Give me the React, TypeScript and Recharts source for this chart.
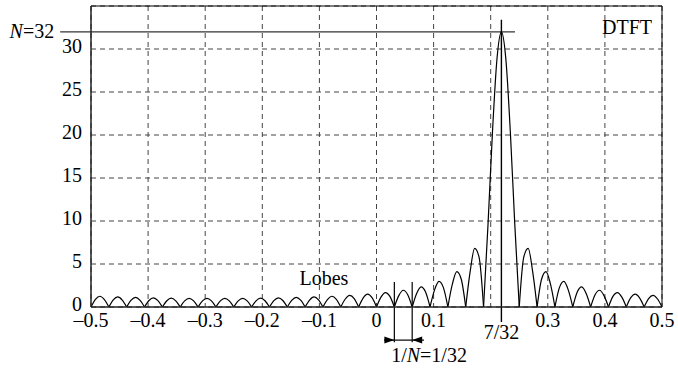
import { LineChart, Line, XAxis, YAxis, CartesianGrid, ReferenceLine, ReferenceDot } from "recharts";

const FREQ_START = -0.5;
const FREQ_STEP = 1 / 128;
const MAGNITUDE = [
  0,
  0.9, 1.25, 0.86, 0,
  0.84, 1.17, 0.81, 0,
  0.79, 1.11, 0.77, 0,
  0.76, 1.06, 0.74, 0,
  0.73, 1.03, 0.72, 0,
  0.72, 1.01, 0.71, 0,
  0.71, 1.0, 0.71, 0,
  0.71, 1.0, 0.71, 0,
  0.71, 1.01, 0.72, 0,
  0.72, 1.03, 0.73, 0,
  0.74, 1.06, 0.76, 0,
  0.77, 1.11, 0.79, 0,
  0.81, 1.17, 0.84, 0,
  0.86, 1.25, 0.9, 0,
  0.93, 1.35, 0.98, 0,
  1.03, 1.49, 1.08, 0,
  1.15, 1.68, 1.23, 0,
  1.32, 1.95, 1.43, 0,
  1.57, 2.34, 1.74, 0,
  1.96, 2.97, 2.25, 0,
  2.65, 4.12, 3.23, 0,
  4.14, 6.82, 5.78, 0,
  9.61, 20.38, 28.81, 32,
  28.81, 20.38, 9.61, 0,
  5.78, 6.82, 4.14, 0,
  3.23, 4.12, 2.65, 0,
  2.25, 2.97, 1.96, 0,
  1.74, 2.34, 1.57, 0,
  1.43, 1.95, 1.32, 0,
  1.23, 1.68, 1.15, 0,
  1.08, 1.49, 1.03, 0,
  0.98, 1.35, 0.93, 0,
];

const X_TICKS = [-0.5, -0.4, -0.3, -0.2, -0.1, 0, 0.1, 0.2, 0.3, 0.4, 0.5];
const X_UNLABELED = [0.2];
const Y_TICKS = [0, 5, 10, 15, 20, 25, 30];
const N = 32;
const PEAK_FREQ = 7 / 32;
const BIN = 1 / 32;

const FONT = "'Liberation Serif', 'Times New Roman', serif";
const FS = 20;

const points = MAGNITUDE.map((mag, i) => ({ f: FREQ_START + i * FREQ_STEP, mag }));

// split at the zeros so every lobe meets the next one in a cusp
const lobes: { f: number; mag: number }[][] = [];
let cur: { f: number; mag: number }[] = [];
points.forEach((p) => {
  cur.push(p);
  if (p.mag === 0 && cur.length > 1) {
    lobes.push(cur);
    cur = [p];
  }
});

const dash = (v: number) => (v < 0 ? "\u2013" + Math.abs(v) : String(v));

function XTick({ x, y, payload }: any) {
  if (X_UNLABELED.some((u) => Math.abs(u - payload.value) < 1e-9)) return <g />;
  return (
    <text x={x} y={y} dy="0.62em" textAnchor="middle" fontSize={FS} fontFamily={FONT} fill="#000">
      {dash(payload.value)}
    </text>
  );
}

function YTick({ x, y, payload }: any) {
  return (
    <text x={x - 1} y={y} dy="0.2em" textAnchor="end" fontSize={FS} fontFamily={FONT} fill="#000">
      {payload.value}
    </text>
  );
}

function ArrowShape(p: any) {
  const dir = p.x2 > p.x1 ? 1 : -1;
  const tip = p.x2;
  const y = p.y2;
  return (
    <g>
      <line x1={p.x1} y1={p.y1} x2={p.x2} y2={p.y2} stroke="#000" strokeWidth={1.2} />
      <polygon points={`${tip},${y} ${tip - dir * 10},${y - 3.5} ${tip - dir * 10},${y + 3.5}`} fill="#000" />
    </g>
  );
}

export default function App() {
  return (
    <div style={{ position: "absolute", left: 0, top: 0, background: "#fff" }}>
      <LineChart width={678} height={368} margin={{ top: 6, right: 16, bottom: 31, left: 0 }}>
        <CartesianGrid stroke="#444" strokeDasharray="5 4" strokeWidth={1} />
        <XAxis
          dataKey="f"
          type="number"
          domain={[-0.5, 0.5]}
          ticks={X_TICKS}
          interval={0}
          height={30}
          tickLine={false}
          axisLine={{ stroke: "#222", strokeWidth: 1.5 }}
          tick={<XTick />}
          allowDataOverflow
        />
        <YAxis
          type="number"
          domain={[0, 35]}
          ticks={Y_TICKS}
          interval={0}
          width={91}
          tickLine={false}
          axisLine={{ stroke: "#222", strokeWidth: 1.5 }}
          tick={<YTick />}
          allowDataOverflow
        />
        <ReferenceLine y={35} stroke="#000" strokeWidth={1} />
        <ReferenceLine x={0.5} stroke="#000" strokeWidth={1} />

        <ReferenceLine
          segment={[{ x: -0.554, y: N }, { x: 0.2425, y: N }]}
          ifOverflow="visible"
          shape={(p: any) => (
            <g>
              <line x1={p.x1} y1={p.y1} x2={p.x2} y2={p.y2} stroke="#333" strokeWidth={1.3} />
              <text x={p.x1 - 6} y={p.y1} dy="0.3em" textAnchor="end" fontSize={FS} fontFamily={FONT} fill="#000">
                <tspan fontStyle="italic">N</tspan>={N}
              </text>
            </g>
          )}
        />
        <ReferenceLine
          segment={[{ x: PEAK_FREQ, y: 33.4 }, { x: PEAK_FREQ, y: -1.75 }]}
          ifOverflow="visible"
          shape={(p: any) => (
            <g>
              <line x1={p.x1} y1={p.y1} x2={p.x2} y2={p.y2} stroke="#000" strokeWidth={1.4} />
              <text x={p.x2} y={p.y2 + 17} textAnchor="middle" fontSize={FS} fontFamily={FONT} fill="#000">
                7/32
              </text>
            </g>
          )}
        />
        <ReferenceLine segment={[{ x: BIN, y: 2.9 }, { x: BIN, y: -4.1 }]} ifOverflow="visible" stroke="#000" strokeWidth={1.2} />
        <ReferenceLine segment={[{ x: 2 * BIN, y: 2.9 }, { x: 2 * BIN, y: -4.1 }]} ifOverflow="visible" stroke="#000" strokeWidth={1.2} />
        <ReferenceLine segment={[{ x: BIN, y: -3.85 }, { x: 2 * BIN, y: -3.85 }]} ifOverflow="visible" stroke="#000" strokeWidth={1.2} />
        <ReferenceLine segment={[{ x: 0.0131, y: -3.85 }, { x: BIN, y: -3.85 }]} ifOverflow="visible" shape={<ArrowShape />} />
        <ReferenceLine segment={[{ x: 0.0832, y: -3.85 }, { x: 2 * BIN, y: -3.85 }]} ifOverflow="visible" shape={<ArrowShape />} />

        <ReferenceDot
          x={0.092}
          y={-6.45}
          r={0}
          ifOverflow="visible"
          shape={(p: any) => (
            <text x={p.cx} y={p.cy} textAnchor="middle" fontSize={FS} fontFamily={FONT} fill="#000">
              1/<tspan fontStyle="italic">N</tspan>=1/32
            </text>
          )}
        />
        <ReferenceDot
          x={-0.092}
          y={2.56}
          r={0}
          ifOverflow="visible"
          shape={(p: any) => (
            <text x={p.cx} y={p.cy} textAnchor="middle" fontSize={FS} fontFamily={FONT} fill="#000">
              Lobes
            </text>
          )}
        />
        <ReferenceDot
          x={0.4825}
          y={31.7}
          r={0}
          ifOverflow="visible"
          shape={(p: any) => (
            <text x={p.cx} y={p.cy} textAnchor="end" fontSize={FS} fontFamily={FONT} fill="#000">
              DTFT
            </text>
          )}
        />

        {lobes.map((lobe, i) => (
          <Line
            key={i}
            data={lobe}
            dataKey="mag"
            type="monotone"
            stroke="#000"
            strokeWidth={1.2}
            dot={false}
            activeDot={false}
            isAnimationActive={false}
          />
        ))}
      </LineChart>
    </div>
  );
}
